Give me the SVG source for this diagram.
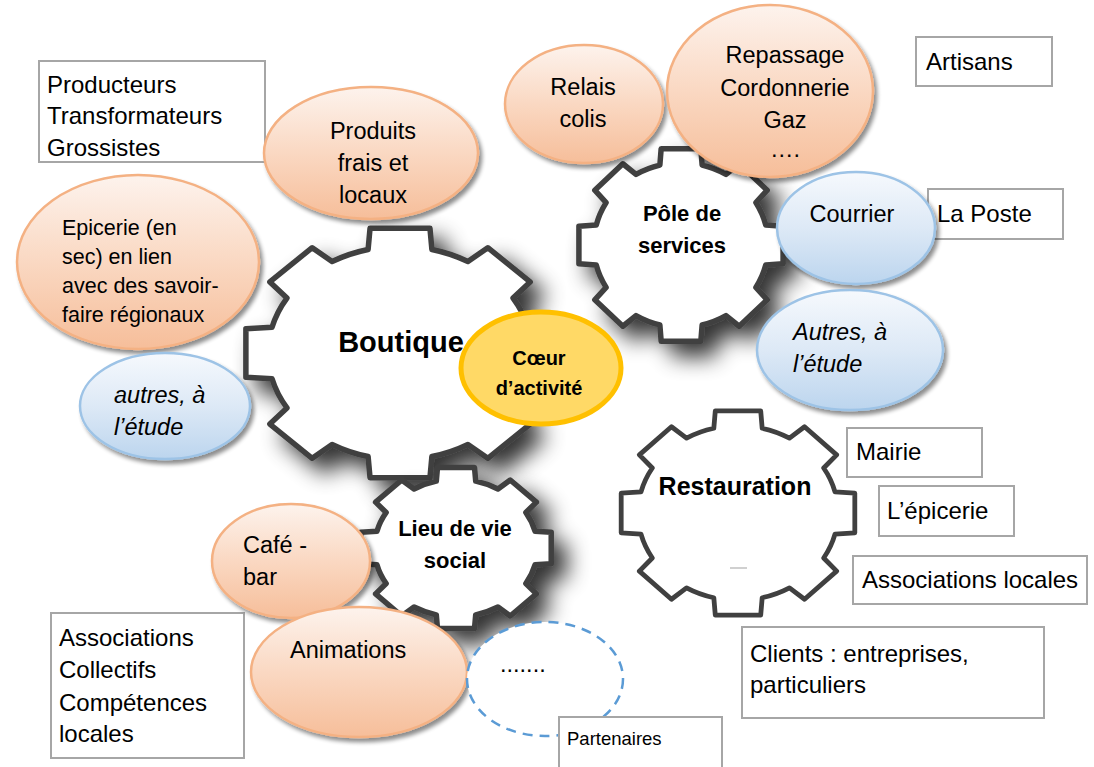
<svg xmlns="http://www.w3.org/2000/svg" xmlns:xlink="http://www.w3.org/1999/xlink" width="1094" height="767" viewBox="0 0 1094 767">
<defs>
<style>
.gear{fill:#ffffff;stroke:#404040;stroke-width:5.5;stroke-linejoin:round}
.box{fill:#ffffff;stroke:#a6a6a6;stroke-width:2}
.pe{fill:url(#gPeach);stroke:#f4b183;stroke-width:2.5}
.bl{fill:url(#gBlue);stroke:#9dc3e6;stroke-width:2.5}
.t{font-family:"Liberation Sans",Arial,sans-serif;font-size:24px;fill:#000}
.e{font-family:"Liberation Sans",Arial,sans-serif;font-size:23.5px;fill:#000}
.ep{font-size:21.5px}
.sm{font-size:18.5px}
.i{font-style:italic}
.b{font-family:"Liberation Sans",Arial,sans-serif;font-weight:bold;fill:#000;text-anchor:middle}
.m{text-anchor:middle}
</style>
<linearGradient id="gPeach" x1="0" y1="0" x2="0" y2="1">
<stop offset="0" stop-color="#fdf3ed"/>
<stop offset="0.5" stop-color="#fad8c2"/>
<stop offset="1" stop-color="#f6be9a"/>
</linearGradient>
<linearGradient id="gBlue" x1="0" y1="0" x2="0" y2="1">
<stop offset="0" stop-color="#f6f9fd"/>
<stop offset="0.5" stop-color="#dde9f6"/>
<stop offset="1" stop-color="#bcd5ee"/>
</linearGradient>
<filter id="sh" x="-10%" y="-10%" width="130%" height="130%">
<feGaussianBlur in="SourceAlpha" stdDeviation="2"/>
<feOffset dx="3" dy="4"/>
<feComponentTransfer><feFuncA type="linear" slope="0.45"/></feComponentTransfer>
<feMerge><feMergeNode/><feMergeNode in="SourceGraphic"/></feMerge>
</filter>
<filter id="gsh" x="-25%" y="-25%" width="160%" height="160%">
<feGaussianBlur in="SourceAlpha" stdDeviation="11"/>
<feOffset dx="13" dy="13"/>
<feComponentTransfer><feFuncA type="linear" slope="0.8"/></feComponentTransfer>
<feMerge><feMergeNode/><feMergeNode in="SourceGraphic"/></feMerge>
</filter>
<path id="gear" vector-effect="non-scaling-stroke" d="M -20.32 -81.5 L -19.08 -98.16 L 19.08 -98.16 L 20.32 -81.5 A 84 84 0 0 1 43.26 -72 L 55.92 -82.9 L 82.9 -55.92 L 72 -43.26 A 84 84 0 0 1 81.5 -20.32 L 98.16 -19.08 L 98.16 19.08 L 81.5 20.32 A 84 84 0 0 1 72 43.26 L 82.9 55.92 L 55.92 82.9 L 43.26 72 A 84 84 0 0 1 20.32 81.5 L 19.08 98.16 L -19.08 98.16 L -20.32 81.5 A 84 84 0 0 1 -43.26 72 L -55.92 82.9 L -82.9 55.92 L -72 43.26 A 84 84 0 0 1 -81.5 20.32 L -98.16 19.08 L -98.16 -19.08 L -81.5 -20.32 A 84 84 0 0 1 -72 -43.26 L -82.9 -55.92 L -55.92 -82.9 L -43.26 -72 A 84 84 0 0 1 -20.32 -81.5 Z"/>
</defs>
<rect x="0" y="0" width="1094" height="767" fill="#ffffff"/>

<g id="connectors"></g>

<g id="boutique">
<g filter="url(#gsh)"><use href="#gear" xlink:href="#gear" class="gear" transform="translate(400 353) scale(1.57 1.27)"/></g>
<text class="b" x="401" y="352" style="font-size:29px">Boutique</text>
</g>

<g id="pole-services">
<g filter="url(#gsh)"><use href="#gear" xlink:href="#gear" class="gear" transform="translate(681 245) scale(1.04 0.98)"/></g>
<text class="b" x="682" y="221" style="font-size:22px">Pôle de</text>
<text class="b" x="682" y="253" style="font-size:22px">services</text>
</g>

<g id="restauration">
<use href="#gear" xlink:href="#gear" class="gear" style="stroke-width:4.8" transform="translate(738 513) scale(1.19 1.04)"/>
<text class="b" x="735" y="495" style="font-size:25px">Restauration</text>
<line x1="730" y1="568" x2="747" y2="568" stroke="#c0c0c0" stroke-width="1.5"/>
</g>

<g id="lieu-vie-social">
<g filter="url(#gsh)"><use href="#gear" xlink:href="#gear" class="gear" transform="translate(456 548) scale(0.97 0.82)"/></g>
<text class="b" x="455" y="536" style="font-size:22px">Lieu de vie</text>
<text class="b" x="455" y="568" style="font-size:22px">social</text>
</g>

<g id="producteurs">
<rect class="box" x="39" y="61" width="226" height="101"/>
<text class="t" x="47" y="93">Producteurs</text>
<text class="t" x="47" y="124">Transformateurs</text>
<text class="t" x="47" y="156">Grossistes</text>
</g>

<g id="artisans">
<rect class="box" x="916" y="37" width="136" height="49"/>
<text class="t" x="926" y="70">Artisans</text>
</g>

<g id="la-poste">
<rect class="box" x="928" y="189" width="135" height="50"/>
<text class="t" x="937" y="222">La Poste</text>
</g>

<g id="mairie">
<rect class="box" x="847" y="428" width="135" height="49"/>
<text class="t" x="856" y="460">Mairie</text>
</g>

<g id="epicerie-box">
<rect class="box" x="879" y="486" width="135" height="50"/>
<text class="t" x="887" y="519">L’épicerie</text>
</g>

<g id="associations-locales">
<rect class="box" x="853" y="556" width="234" height="48"/>
<text class="t" x="862" y="588">Associations locales</text>
</g>

<g id="clients">
<rect class="box" x="742" y="627" width="302" height="91"/>
<text class="t" x="750" y="662">Clients : entreprises,</text>
<text class="t" x="750" y="693">particuliers</text>
</g>

<g id="associations-collectifs">
<rect class="box" x="51" y="613" width="193" height="145"/>
<text class="t" x="59" y="646">Associations</text>
<text class="t" x="59" y="678">Collectifs</text>
<text class="t" x="59" y="711">Compétences</text>
<text class="t" x="59" y="742">locales</text>
</g>

<g id="produits-frais">
<ellipse class="pe" filter="url(#sh)" cx="371" cy="153" rx="107" ry="66"/>
<text class="e m" x="373" y="139">Produits</text>
<text class="e m" x="373" y="171">frais et</text>
<text class="e m" x="373" y="203">locaux</text>
</g>

<g id="epicerie">
<ellipse class="pe" filter="url(#sh)" cx="138" cy="262" rx="121" ry="87"/>
<text class="e ep" x="62" y="235">Epicerie (en</text>
<text class="e ep" x="62" y="264">sec) en lien</text>
<text class="e ep" x="62" y="293">avec des savoir-</text>
<text class="e ep" x="62" y="322">faire régionaux</text>
</g>

<g id="autres-boutique">
<ellipse class="bl" filter="url(#sh)" cx="165" cy="406" rx="85" ry="53"/>
<text class="e i" x="114" y="403">autres, à</text>
<text class="e i" x="114" y="435">l’étude</text>
</g>

<g id="relais-colis">
<ellipse class="pe" filter="url(#sh)" cx="584" cy="104" rx="79" ry="59"/>
<text class="e m" x="583" y="95">Relais</text>
<text class="e m" x="583" y="127">colis</text>
</g>

<g id="repassage">
<ellipse class="pe" filter="url(#sh)" cx="770" cy="91" rx="103" ry="86"/>
<text class="e m" x="785" y="63">Repassage</text>
<text class="e m" x="785" y="96">Cordonnerie</text>
<text class="e m" x="785" y="128">Gaz</text>
<text class="e m" x="785" y="157">….</text>
</g>

<g id="courrier">
<ellipse class="bl" filter="url(#sh)" cx="856" cy="228" rx="79" ry="56"/>
<text class="e m" x="852" y="222">Courrier</text>
</g>

<g id="autres-services">
<ellipse class="bl" filter="url(#sh)" cx="850" cy="350" rx="93" ry="60"/>
<text class="e i" x="793" y="340">Autres, à</text>
<text class="e i" x="793" y="372">l’étude</text>
</g>

<g id="cafe-bar">
<ellipse class="pe" filter="url(#sh)" cx="291" cy="561" rx="79" ry="57"/>
<text class="e" x="243" y="553">Café -</text>
<text class="e" x="243" y="585">bar</text>
</g>

<g id="animations">
<ellipse class="pe" filter="url(#sh)" cx="359" cy="672" rx="108" ry="65"/>
<text class="e" x="290" y="658">Animations</text>
</g>

<g id="partenaires-ellipse">
<ellipse cx="545" cy="679" rx="78" ry="57" fill="#ffffff" stroke="#5b9bd5" stroke-width="2.5" stroke-dasharray="10 7"/>
<text class="e" x="500" y="672">.......</text>
</g>

<g id="partenaires">
<rect class="box" x="559" y="717" width="163" height="56"/>
<text class="t sm" x="567" y="745">Partenaires</text>
</g>

<g id="coeur-activite">
<ellipse cx="541" cy="368" rx="80" ry="56" fill="#ffd966" stroke="#ffc000" stroke-width="5"/>
<text class="b" x="539" y="365" style="font-size:20px">Cœur</text>
<text class="b" x="539" y="395" style="font-size:20px">d’activité</text>
</g>
</svg>
